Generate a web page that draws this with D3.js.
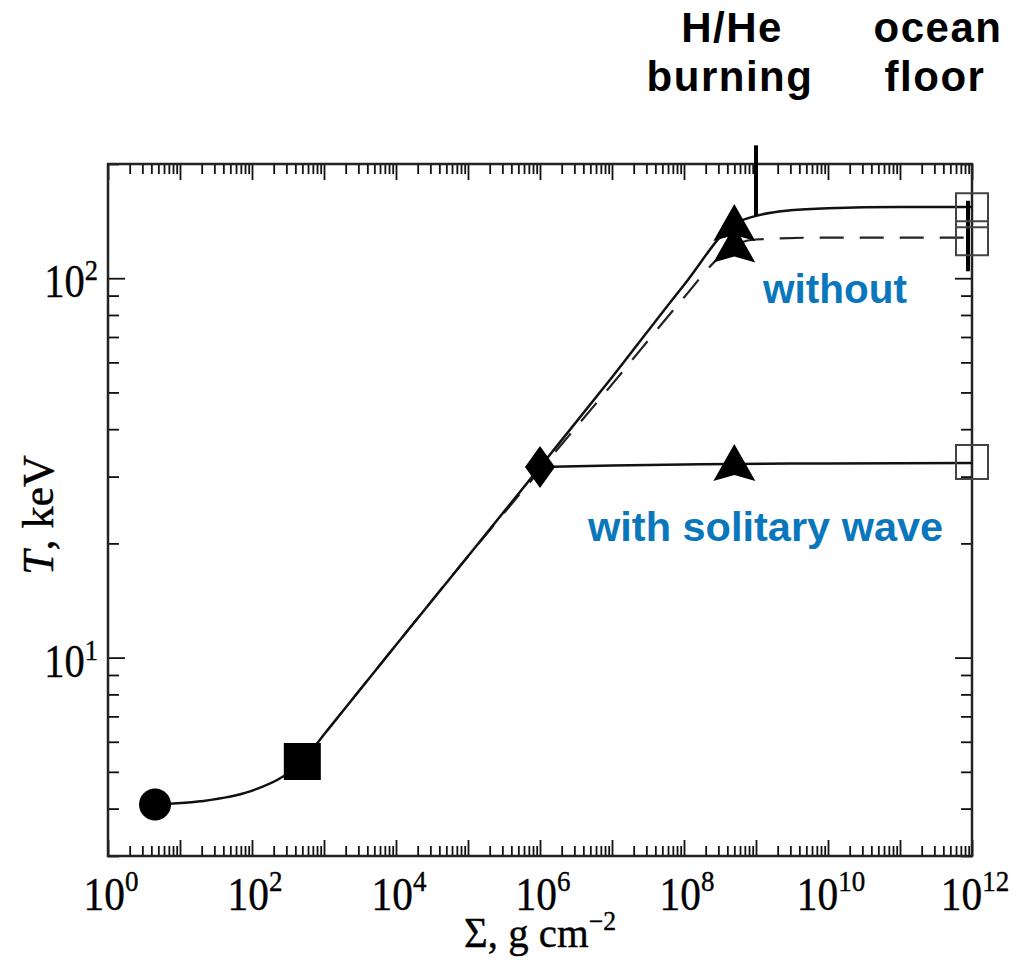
<!DOCTYPE html>
<html>
<head>
<meta charset="utf-8">
<script src="https://cdn.jsdelivr.net/npm/d3@7"></script>
<style>
  body { margin: 0; background: #fff; }
  svg { display: block; }
</style>
</head>
<body>
<svg id="drawing_region"></svg>
<script>
// curves (Sigma in g cm^-2, T in keV)
const sigmaSolid = [4.5, 19, 94, 270, 500, 1e3, 1e4, 1e5, 1e6, 1e7, 1e8, 5e8, 1e9, 3e9, 1e10, 1e11, 1e12];
const tSolid     = [4.1, 4.18, 4.44, 4.86, 5.32, 6.27, 10.8, 18.5, 31.8, 54.8, 96, 139, 146, 151, 153, 154, 154];

const sigmaDashed = [500, 1e3, 1e4, 1e5, 1e6, 1e7, 1e8, 3e8, 5e8, 1e9, 1e10, 1e12];
const tDashed     = [5.32, 6.27, 10.8, 18.5, 31.2, 52.5, 89, 113, 122, 126.5, 128, 128];

const sigmaWave = [1e6, 1e7, 1e8, 5e8, 1e10, 1e12];
const tWave     = [31.8, 32.1, 32.3, 32.4, 32.5, 32.6];

// markers
const markerSigma = [4.5, 500, 1e6, 5e8, 5e8, 5e8, 1e12, 1e12, 1e12];
const markerT     = [4.1, 5.32, 31.8, 139, 122, 32.4, 151, 127.4, 32.8];
const markerShape = ["circle", "square", "diamond", "triangle", "triangle", "triangle", "open", "open", "open"];

// vertical marks: H/He burning and ocean floor
const markSigma = [1e9, 8.8e11];
const markTop   = [224, 160];
const markBot   = [146, 104.3];

// axis labels
const xTickExps = [0, 2, 4, 6, 8, 10, 12];
const yTickExps = [1, 2];

const width = 1018, height = 960;
const margin = { top: 164, right: 46, bottom: 104, left: 108 };

const svg = d3.select('#drawing_region')
    .attr('width', width)
    .attr('height', height);

const x = d3.scaleLog().domain([1, 1e12]).range([margin.left, width - margin.right]);
const y = d3.scaleLog().domain([3, 200]).range([height - margin.bottom, margin.top]);

// tick values
const xMajor = d3.range(0, 13).map(e => Math.pow(10, e));
const xMinor = [];
d3.range(0, 12).forEach(e => { for (let k = 2; k <= 9; k++) xMinor.push(k * Math.pow(10, e)); });
const yMajor = [10, 100];
const yMinor = [3, 4, 5, 6, 7, 8, 9, 20, 30, 40, 50, 60, 70, 80, 90, 200];

const x0 = x.range()[0], x1 = x.range()[1];
const y0 = y.range()[0], y1 = y.range()[1];

function drawAxis(axis, tx, ty) {
    const g = svg.append('g')
        .attr('transform', `translate(${tx},${ty})`)
        .call(axis);
    g.select('.domain').remove();
    g.selectAll('.tick line').attr('stroke', '#111').attr('stroke-width', 1.8);
    g.selectAll('.tick text').remove();
}

// ticks point inward on every side
drawAxis(d3.axisBottom(x).tickValues(xMajor).tickSize(-16), 0, y0);
drawAxis(d3.axisBottom(x).tickValues(xMinor).tickSize(-10), 0, y0);
drawAxis(d3.axisTop(x).tickValues(xMajor).tickSize(-16), 0, y1);
drawAxis(d3.axisTop(x).tickValues(xMinor).tickSize(-10), 0, y1);
drawAxis(d3.axisLeft(y).tickValues(yMajor).tickSize(-17), x0, 0);
drawAxis(d3.axisLeft(y).tickValues(yMinor).tickSize(-11), x0, 0);
drawAxis(d3.axisRight(y).tickValues(yMajor).tickSize(-17), x1, 0);
drawAxis(d3.axisRight(y).tickValues(yMinor).tickSize(-11), x1, 0);

svg.append('rect')
    .attr('x', x0).attr('y', y1)
    .attr('width', x1 - x0).attr('height', y0 - y1)
    .attr('fill', 'none')
    .attr('stroke', '#222')
    .attr('stroke-width', 2.5);

// tick labels
const serif = '"Liberation Serif", "Times New Roman", serif';
function serifText(tf, anchor) {
    return svg.append('text')
        .attr('transform', tf)
        .attr('text-anchor', anchor)
        .attr('font-family', serif)
        .attr('font-size', 46)
        .attr('fill', '#000')
        .attr('stroke', '#000')
        .attr('stroke-width', 0.4);
}
xTickExps.forEach(e => {
    const t = serifText(`translate(${x(Math.pow(10, e)) + 3},910) scale(0.9,1)`, 'middle');
    t.append('tspan').text('10');
    t.append('tspan').attr('dy', -19).attr('font-size', 30).text(e);
});
yTickExps.forEach(e => {
    const t = serifText(`translate(98,${y(Math.pow(10, e)) + 19}) scale(0.88,1)`, 'end');
    t.append('tspan').text('10');
    t.append('tspan').attr('dy', -17).attr('font-size', 30).text(e);
});

// axis titles
const xt = serifText(`translate(${(x0 + x1) / 2},947) scale(0.95,1)`, 'middle')
    .attr('font-size', 43);
xt.append('tspan').text('Σ, g cm');
xt.append('tspan').attr('dy', -17).attr('font-size', 27).text('−2');

const yt = serifText(`translate(53,515) rotate(-90)`, 'middle')
    .attr('font-size', 44);
yt.append('tspan').attr('font-style', 'italic').text('T');
yt.append('tspan').text(', keV');

// curves
const line = d3.line()
    .x(d => x(d[0]))
    .y(d => y(d[1]))
    .curve(d3.curveMonotoneX);

svg.append('path')
    .datum(d3.zip(sigmaDashed, tDashed))
    .attr('d', line)
    .attr('fill', 'none')
    .attr('stroke', '#222')
    .attr('stroke-width', 2.2)
    .attr('stroke-dasharray', '24,16');

svg.append('path')
    .datum(d3.zip(sigmaSolid, tSolid))
    .attr('d', line)
    .attr('fill', 'none')
    .attr('stroke', '#111')
    .attr('stroke-width', 2.5);

svg.append('path')
    .datum(d3.zip(sigmaWave, tWave))
    .attr('d', line)
    .attr('fill', 'none')
    .attr('stroke', '#111')
    .attr('stroke-width', 2.5);

// vertical marks
svg.selectAll('.mark')
    .data(d3.range(markSigma.length))
    .enter()
    .append('line')
    .attr('x1', i => x(markSigma[i])).attr('x2', i => x(markSigma[i]))
    .attr('y1', i => y(markTop[i])).attr('y2', i => y(markBot[i]))
    .attr('stroke', '#000')
    .attr('stroke-width', 4);

// markers
const shapes = {
    circle: 'M16,0A16,16 0 1,1 -16,0A16,16 0 1,1 16,0Z',
    square: 'M-18.5,-18.5H18.5V18.5H-18.5Z',
    diamond: 'M0,-21L15,0L0,21L-15,0Z',
    triangle: 'M0,-20L21,17L0,11L-21,17Z',
    open: 'M-16,-17H16V17H-16Z'
};
svg.selectAll('.marker')
    .data(d3.range(markerSigma.length))
    .enter()
    .append('path')
    .attr('transform', i => `translate(${x(markerSigma[i])},${y(markerT[i])})`)
    .attr('d', i => shapes[markerShape[i]])
    .attr('fill', i => markerShape[i] === 'open' ? 'none' : '#000')
    .attr('stroke', i => markerShape[i] === 'open' ? '#444' : 'none')
    .attr('stroke-width', 2);

// annotations
const sans = '"Liberation Sans", Arial, Helvetica, sans-serif';
const notes = [
    { text: 'H/He', x: 732, y: 42 },
    { text: 'burning', x: 730, y: 91 },
    { text: 'ocean', x: 938, y: 42 },
    { text: 'floor', x: 935, y: 91 }
];
svg.selectAll('.note')
    .data(notes)
    .enter()
    .append('text')
    .attr('x', d => d.x).attr('y', d => d.y)
    .attr('text-anchor', 'middle')
    .attr('font-family', sans)
    .attr('font-weight', 'bold')
    .attr('font-size', 42)
    .attr('letter-spacing', 1.5)
    .attr('fill', '#000')
    .text(d => d.text);

svg.append('text')
    .attr('x', 763).attr('y', 303)
    .attr('font-family', sans)
    .attr('font-weight', 'bold')
    .attr('font-size', 40.5)
    .attr('fill', '#0a77bd')
    .text('without');

svg.append('text')
    .attr('x', 588).attr('y', 541)
    .attr('font-family', sans)
    .attr('font-weight', 'bold')
    .attr('font-size', 41.5)
    .attr('fill', '#0a77bd')
    .text('with solitary wave');
</script>
</body>
</html>
